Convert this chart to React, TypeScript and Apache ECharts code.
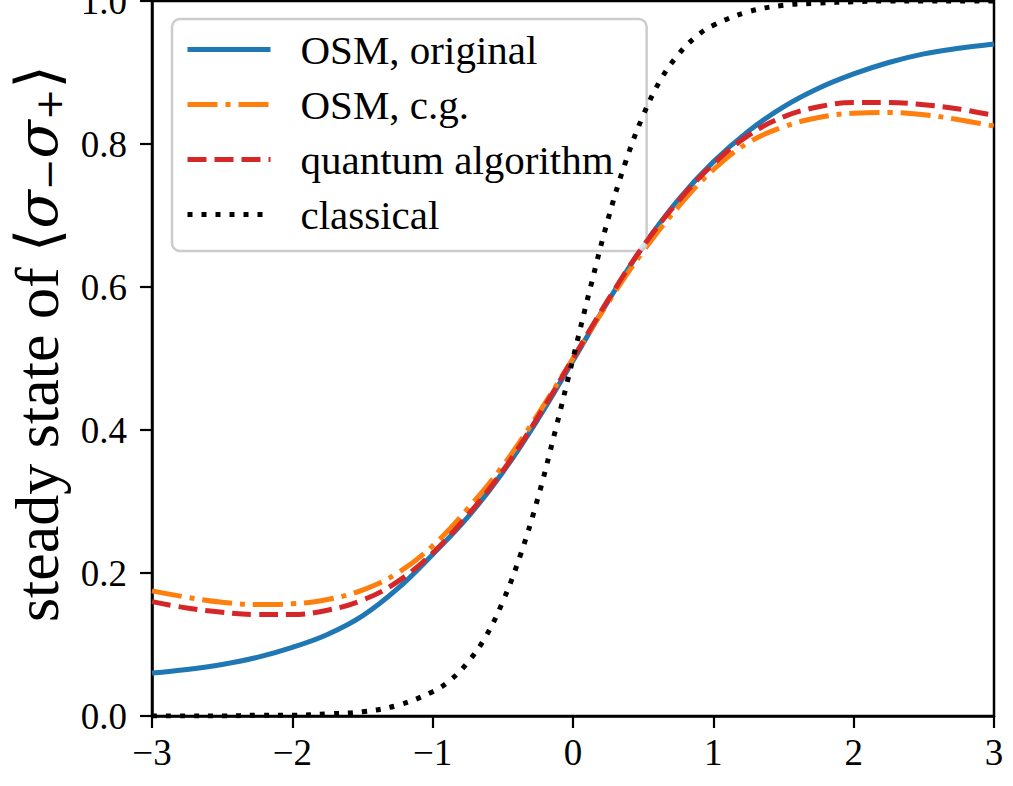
import React, { useEffect, useRef } from "react";
import * as echarts from "echarts";

const xMain = [-3, -2.75, -2.5, -2.25, -2, -1.75, -1.5, -1.25, -1, -0.75, -0.5, -0.25, 0, 0.25, 0.5, 0.75, 1, 1.25, 1.5, 1.75, 2, 2.25, 2.5, 2.75, 3];
const osmOriginal = [0.060, 0.065, 0.072, 0.082, 0.096, 0.114, 0.140, 0.178, 0.226, 0.278, 0.341, 0.415, 0.497, 0.580, 0.657, 0.722, 0.775, 0.818, 0.852, 0.878, 0.898, 0.914, 0.926, 0.934, 0.940];
const osmCG = [0.175, 0.166, 0.159, 0.156, 0.157, 0.163, 0.176, 0.200, 0.238, 0.290, 0.350, 0.422, 0.500, 0.578, 0.650, 0.712, 0.764, 0.802, 0.824, 0.837, 0.843, 0.844, 0.841, 0.834, 0.825];
const quantum = [0.160, 0.151, 0.145, 0.142, 0.142, 0.148, 0.162, 0.188, 0.228, 0.281, 0.343, 0.418, 0.500, 0.582, 0.657, 0.720, 0.772, 0.812, 0.838, 0.852, 0.858, 0.858, 0.855, 0.849, 0.840];

const xClassical = [-3, -2.75, -2.5, -2.25, -2, -1.75, -1.5, -1.25, -1, -0.875, -0.75, -0.625, -0.5, -0.375, -0.25, -0.125, 0, 0.125, 0.25, 0.375, 0.5, 0.625, 0.75, 0.875, 1, 1.25, 1.5, 1.75, 2, 2.25, 2.5, 2.75, 3];
const classical = [0.000, 0.000, 0.000, 0.001, 0.001, 0.003, 0.006, 0.015, 0.034, 0.050, 0.075, 0.110, 0.160, 0.225, 0.305, 0.400, 0.500, 0.600, 0.695, 0.775, 0.840, 0.890, 0.925, 0.950, 0.966, 0.985, 0.994, 0.997, 0.999, 1.000, 1.000, 1.000, 1.000];

const seriesNames = ["OSM, original", "OSM, c.g.", "quantum algorithm", "classical"];

const FONT = "Liberation Serif";

function pairs(xs: number[], ys: number[]) {
  return xs.map((x, i) => [x, ys[i]]);
}

export default function App() {
  const ref = useRef<HTMLDivElement>(null);
  useEffect(() => {
    if (!ref.current) return;
    const chart = echarts.init(ref.current, null, { renderer: "svg" });
    const lw = 5;
    chart.setOption({
      animation: false,
      backgroundColor: "#ffffff",
      grid: {
        left: 152,
        right: 19,
        top: 1,
        bottom: 70,
        outerBoundsMode: "none",
        containLabel: false,
        show: true,
        borderColor: "#000",
        borderWidth: 2.5,
        backgroundColor: "transparent",
      },
      legend: {
        orient: "vertical",
        left: 172,
        top: 19,
        data: seriesNames,
        backgroundColor: "rgba(255,255,255,0.8)",
        borderColor: "#cccccc",
        borderWidth: 2.5,
        borderRadius: 8,
        padding: [10, 33, 16, 13],
        itemWidth: 83,
        itemHeight: 20,
        itemGap: 14,
        lineStyle: { width: lw },
        itemStyle: { opacity: 0 },
        textStyle: {
          fontFamily: FONT,
          fontSize: 41,
          color: "#000",
          padding: [0, 0, 0, 25],
          lineHeight: 41,
        },
      },
      xAxis: {
        type: "value",
        min: -3,
        max: 3,
        interval: 1,
        splitLine: { show: false },
        axisLine: { show: true, onZero: false, lineStyle: { color: "#000", width: 2.5 } },
        axisTick: { show: true, length: 12, lineStyle: { color: "#000", width: 2.2 } },
        axisLabel: {
          margin: 18,
          fontFamily: FONT,
          fontSize: 37,
          color: "#000",
          formatter: (v: number) => (v < 0 ? "\u2212" + Math.abs(v) : String(v)),
        },
      },
      yAxis: {
        type: "value",
        min: 0,
        max: 1,
        interval: 0.2,
        splitLine: { show: false },
        axisLine: { show: true, onZero: false, lineStyle: { color: "#000", width: 2.5 } },
        axisTick: { show: true, length: 12, lineStyle: { color: "#000", width: 2.2 } },
        axisLabel: {
          margin: 25,
          fontFamily: FONT,
          fontSize: 37,
          color: "#000",
          formatter: (v: number) => v.toFixed(1),
        },
        name: "{n|steady state of }{b|\u27E8}{it|\u03C3}{sub|\u2212}{it|\u03C3}{sub|+}{b|\u27E9}",
        nameLocation: "middle",
        nameRotate: 90,
        nameGap: 84,
        nameTextStyle: {
          fontFamily: FONT,
          fontSize: 62,
          color: "#000",
          rich: {
            n: { fontFamily: FONT, fontSize: 62, color: "#000", padding: [0, 0, 0, 30] },
            b: { fontFamily: "DejaVu Serif", fontSize: 60, color: "#000" },
            it: { fontFamily: "DejaVu Serif", fontSize: 56, fontStyle: "italic", color: "#000" },
            sub: { fontFamily: "DejaVu Serif", fontSize: 38, color: "#000", verticalAlign: "bottom", padding: [18, 0, 0, 0] },
          },
        },
      },
      series: [
        {
          name: seriesNames[0],
          type: "line",
          data: pairs(xMain, osmOriginal),
          smooth: 0.4,
          symbol: "none",
          lineStyle: { color: "#1f77b4", width: lw },
          itemStyle: { color: "#1f77b4" },
          z: 2,
        },
        {
          name: seriesNames[1],
          type: "line",
          data: pairs(xMain, osmCG),
          smooth: 0.4,
          symbol: "none",
          lineStyle: { color: "#ff7f0e", width: lw, type: [30, 8, 5, 8] },
          itemStyle: { color: "#ff7f0e" },
          z: 3,
        },
        {
          name: seriesNames[2],
          type: "line",
          data: pairs(xMain, quantum),
          smooth: 0.4,
          symbol: "none",
          lineStyle: { color: "#d62728", width: lw, type: [19, 8] },
          itemStyle: { color: "#d62728" },
          z: 4,
        },
        {
          name: seriesNames[3],
          type: "line",
          data: pairs(xClassical, classical),
          smooth: 0.4,
          symbol: "none",
          lineStyle: { color: "#000", width: lw, type: [5, 9] },
          itemStyle: { color: "#000" },
          z: 5,
        },
      ],
    });
    return () => chart.dispose();
  }, []);
  return (
    <div
      ref={ref}
      style={{ position: "absolute", left: 0, top: 0, width: 1013, height: 786, background: "#fff" }}
    />
  );
}
